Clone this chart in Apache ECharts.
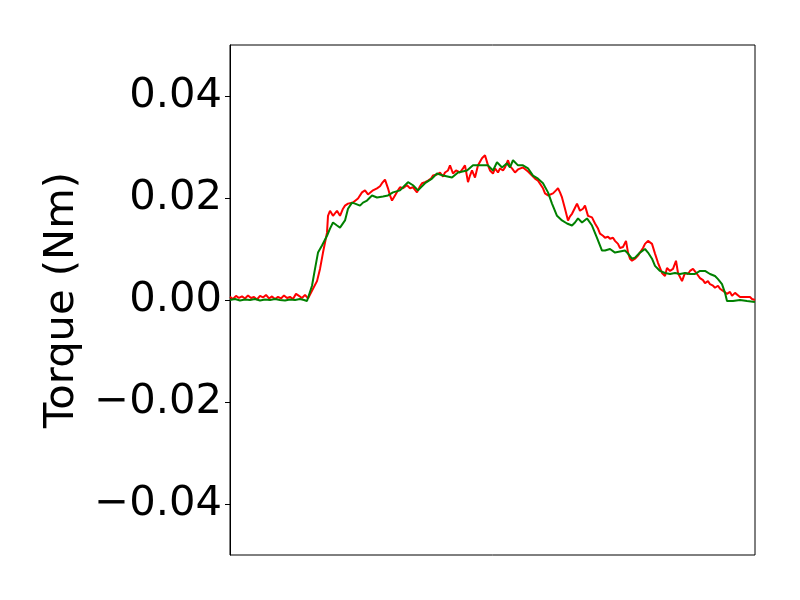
<!DOCTYPE html>
<html>
<head>
<meta charset="utf-8">
<script src="https://cdn.jsdelivr.net/npm/echarts@6/dist/echarts.min.js"></script>
<style>html,body{margin:0;padding:0;background:#fff;}#c{width:800px;height:600px;}</style>
</head>
<body>
<div id="c"></div>
<script>
// Time (sample index) and torque (Nm) for the red trace
const redT = [0,3,6,9,12,15,18,21,24,27,30,33,36,39,42,45,48,51,54,57,60,63,66,69,72,75,78,
  80,83,87,90,93,97,98,100,103,107,110,113,115,118,123,128,132,135,138,
  140,143,147,150,152,155,158,160,162,165,168,170,173,177,180,183,187,
  190,192,195,198,201,203,207,210,213,215,218,220,223,226,230,233,235,238,
  240,242,245,248,252,255,258,260,263,265,268,270,273,275,278,280,282,285,288,
  290,293,295,298,300,303,305,308,310,313,315,318,320,323,326,328,330,332,335,338,
  340,342,345,347,350,353,355,358,360,362,365,368,370,373,375,378,380,383,385,388,
  390,393,396,398,400,402,405,408,410,413,415,418,420,422,425,428,432,435,437,
  440,443,446,448,452,455,458,460,463,467,470,473,475,478,480,483,485,488,
  490,493,495,497,500,502,505,507,510,512,515,517,520,522,525];
const redV = [0.0006,0.0002,0.0008,0.0004,0.0007,0.0003,0.0009,0.0004,0.0006,0.0001,0.0008,0.0005,0.0010,0.0003,0.0007,0.0002,0.0006,0.0003,0.0009,0.0004,0.0006,0.0002,0.0012,0.0008,0.0004,0.0010,0.0003,
  0.0002,0.0022,0.0037,0.0061,0.0093,0.0132,0.0165,0.0175,0.0165,0.0175,0.0165,0.0179,0.0185,0.0189,0.0191,0.0199,0.0211,0.0215,0.0207,
  0.0205,0.0215,0.0219,0.0223,0.0229,0.0236,0.0219,0.0205,0.0195,0.0205,0.0215,0.0221,0.0219,0.0225,0.0219,0.0221,0.0211,
  0.0223,0.0229,0.0231,0.0234,0.0238,0.0244,0.0246,0.0250,0.0242,0.0250,0.0254,0.0264,0.0248,0.0254,0.0250,0.0258,0.0264,0.0231,
  0.0244,0.0254,0.0240,0.0264,0.0278,0.0284,0.0264,0.0254,0.0248,0.0258,0.0250,0.0258,0.0254,0.0260,0.0274,0.0262,0.0258,0.0250,0.0256,
  0.0254,0.0260,0.0258,0.0252,0.0248,0.0242,0.0238,0.0234,0.0231,0.0219,0.0209,0.0205,0.0207,0.0209,0.0215,0.0219,0.0211,0.0201,0.0179,0.0156,
  0.0164,0.0169,0.0181,0.0189,0.0175,0.0179,0.0185,0.0165,0.0164,0.0162,0.0150,0.0140,0.0130,0.0126,0.0122,0.0124,0.0120,0.0122,0.0116,0.0110,
  0.0102,0.0104,0.0116,0.0093,0.0081,0.0077,0.0081,0.0087,0.0093,0.0102,0.0110,0.0116,0.0114,0.0110,0.0091,0.0073,0.0053,0.0047,0.0063,
  0.0057,0.0061,0.0077,0.0053,0.0037,0.0053,0.0051,0.0057,0.0061,0.0051,0.0043,0.0039,0.0033,0.0037,0.0031,0.0028,0.0024,0.0028,
  0.0022,0.0018,0.0020,0.0012,0.0016,0.0008,0.0014,0.0012,0.0006,0.0008,0.0006,0.0004,0.0006,0.0002,0.0000];

// Time (sample index) and torque (Nm) for the green trace
const greenT = [0,5,10,15,20,25,30,35,40,45,50,55,60,65,70,74,77,
  82,85,88,92,97,100,103,107,110,115,118,122,125,130,133,137,142,147,153,158,163,
  170,174,178,183,188,195,202,207,213,222,228,237,243,250,258,263,267,272,277,280,283,288,293,298,
  303,308,313,318,322,327,332,337,342,345,348,352,357,362,367,372,375,380,385,390,395,398,
  402,405,410,415,418,422,425,430,435,440,445,450,455,460,465,470,475,480,485,488,492,495,497,503,510,517,525];
const greenV = [0.0000,0.0002,-0.0001,0.0001,0.0000,0.0002,-0.0001,0.0001,0.0000,0.0002,0.0000,-0.0001,0.0001,0.0000,0.0002,0.0000,-0.0002,
  0.0028,0.0061,0.0093,0.0107,0.0126,0.0140,0.0152,0.0146,0.0142,0.0156,0.0179,0.0191,0.0189,0.0185,0.0191,0.0195,0.0205,0.0201,0.0203,0.0205,0.0211,
  0.0215,0.0223,0.0231,0.0225,0.0215,0.0229,0.0238,0.0248,0.0244,0.0240,0.0250,0.0254,0.0264,0.0264,0.0264,0.0254,0.0270,0.0260,0.0268,0.0260,0.0274,0.0264,0.0264,0.0258,
  0.0244,0.0238,0.0229,0.0211,0.0189,0.0165,0.0156,0.0150,0.0146,0.0152,0.0160,0.0152,0.0160,0.0146,0.0122,0.0097,0.0097,0.0100,0.0093,0.0095,0.0097,0.0091,
  0.0081,0.0083,0.0093,0.0100,0.0093,0.0081,0.0067,0.0057,0.0053,0.0051,0.0053,0.0051,0.0053,0.0051,0.0051,0.0057,0.0057,0.0051,0.0047,0.0041,0.0031,0.0014,-0.0002,-0.0002,0.0000,-0.0002,-0.0004];

const yTicks = [-0.04, -0.02, 0, 0.02, 0.04];
const yLabel = 'Torque (Nm)';

const zip = (t, v) => t.map((x, i) => [x, v[i]]);

const chart = echarts.init(document.getElementById('c'));
const font = 'DejaVu Sans';
chart.setOption({
  animation: false,
  backgroundColor: '#fff',
  grid: { left: 230, right: 45, top: 45, bottom: 45, show: true, borderColor: '#000', borderWidth: 1, backgroundColor: 'transparent' },
  xAxis: {
    type: 'value', min: 0, max: 525,
    axisLine: { show: false }, axisTick: { show: false }, axisLabel: { show: false }, splitLine: { show: false }
  },
  yAxis: {
    type: 'value', min: -0.05, max: 0.05,
    name: yLabel, nameLocation: 'middle', nameRotate: 90, nameGap: 144,
    nameTextStyle: { fontFamily: font, fontSize: 41.67, color: '#000' },
    axisLine: { show: true, lineStyle: { color: '#000', width: 1 } },
    axisTick: { show: true, length: 5, lineStyle: { color: '#000', width: 1 }, customValues: yTicks },
    axisLabel: {
      customValues: yTicks, margin: 8, fontFamily: font, fontSize: 41.67, color: '#000',
      formatter: v => (v < 0 ? '\u2212' : '') + Math.abs(v).toFixed(2)
    },
    splitLine: { show: false }
  },
  series: [
    { type: 'line', data: zip(redT, redV), showSymbol: false, lineStyle: { color: '#ff0000', width: 2 }, itemStyle: { color: '#ff0000' } },
    { type: 'line', data: zip(greenT, greenV), showSymbol: false, lineStyle: { color: '#008000', width: 2 }, itemStyle: { color: '#008000' } }
  ]
});
</script>
</body>
</html>
